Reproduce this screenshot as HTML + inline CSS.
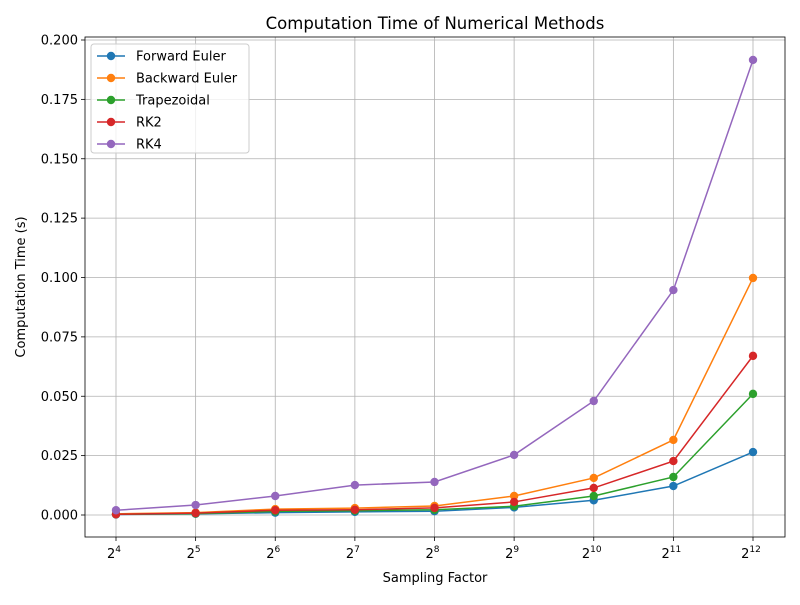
<!DOCTYPE html>
<html><head><meta charset="utf-8"><style>
body{margin:0;background:#fff;}
svg{font-family:"DejaVu Sans","Liberation Sans",sans-serif;}
</style></head><body>
<svg id="chart" width="800" height="600"></svg>
<script>
const exps=[4,5,6,7,8,9,10,11,12];
const seriesNames=["Forward Euler","Backward Euler","Trapezoidal","RK2","RK4"];
const colors=["#1f77b4","#ff7f0e","#2ca02c","#d62728","#9467bd"];
const forwardEuler=[0.0002,0.0005,0.001,0.0013,0.0016,0.0032,0.0062,0.0122,0.0265];
const backwardEuler=[0.0005,0.001,0.0025,0.0029,0.0038,0.008,0.0156,0.0316,0.0998];
const trapezoidal=[0.0003,0.0006,0.0015,0.0018,0.0022,0.0037,0.008,0.016,0.051];
const rk2=[0.0003,0.0008,0.002,0.0022,0.003,0.0055,0.0114,0.0227,0.067];
const rk4=[0.002,0.0042,0.008,0.0126,0.0139,0.0253,0.048,0.0947,0.1916];
const yTicks=[0,0.025,0.05,0.075,0.1,0.125,0.15,0.175,0.2];
const allSeries=[forwardEuler,backwardEuler,trapezoidal,rk2,rk4];
const L=85,R=785,T=37,B=537;
const xs=i=>116+(753-116)*(exps[i]-4)/8;
const ys=v=>515-v*(515-40)/0.2;
const NS="http://www.w3.org/2000/svg";
const svg=document.getElementById('chart');
function mk(t,a,p){const e=document.createElementNS(NS,t);for(const k in a)e.setAttribute(k,a[k]);(p||svg).appendChild(e);return e;}
exps.forEach((e,i)=>{const l=mk('line',{x1:xs(i),x2:xs(i),y1:T,y2:B,stroke:'#b0b0b0','stroke-width':0.8});

});
yTicks.forEach(v=>{const l=mk('line',{x1:L,x2:R,y1:ys(v),y2:ys(v),stroke:'#b0b0b0','stroke-width':0.8});

});
allSeries.forEach((s,k)=>{
 const g=mk('g',{});
 
 
 mk('polyline',{points:s.map((v,i)=>xs(i)+','+ys(v)).join(' '),fill:'none',stroke:colors[k],'stroke-width':1.5},g);
 s.forEach((v,i)=>{const c=mk('circle',{cx:xs(i),cy:ys(v),r:4.2,fill:colors[k]},g);
 
 });
});
const fr=mk('rect',{x:L,y:T,width:R-L,height:B-T,fill:'none',stroke:'#000','stroke-width':0.8});


exps.forEach((e,i)=>{mk('line',{x1:xs(i),x2:xs(i),y1:B,y2:B+4,stroke:'#000','stroke-width':0.8});
 const t=mk('text',{x:xs(i)-2,y:B+21,'text-anchor':'middle','font-size':13});
 
 
 t.innerHTML='2<tspan dy="-6" font-size="9">'+e+'</tspan>';});
yTicks.forEach(v=>{mk('line',{x1:L-4,x2:L,y1:ys(v),y2:ys(v),stroke:'#000','stroke-width':0.8});
 const t=mk('text',{x:L-7,y:ys(v)+4.5,'text-anchor':'end','font-size':13});
 
 
 t.textContent=v.toFixed(3);});
let t=mk('text',{x:435,y:29,'text-anchor':'middle','font-size':16.5});


t.textContent='Computation Time of Numerical Methods';
t=mk('text',{x:435,y:582,'text-anchor':'middle','font-size':13});


t.textContent='Sampling Factor';
t=mk('text',{x:25,y:287,'text-anchor':'middle','font-size':13,transform:'rotate(-90 25 287)'});


t.textContent='Computation Time (s)';
const lg=mk('g',{});


mk('rect',{x:91,y:44,width:158,height:109,rx:3,fill:'#fff','fill-opacity':0.8,stroke:'#ccc'},lg);
seriesNames.forEach((n,k)=>{const y=56+k*22;
 const e=mk('g',{},lg);
 
 
 mk('line',{x1:97,x2:125,y1:y,y2:y,stroke:colors[k],'stroke-width':1.5},e);
 mk('circle',{cx:111,cy:y,r:4.2,fill:colors[k]},e);
 const tt=mk('text',{x:136,y:y+4.5,'font-size':13},e);tt.textContent=n;});
</script>
</body></html>
